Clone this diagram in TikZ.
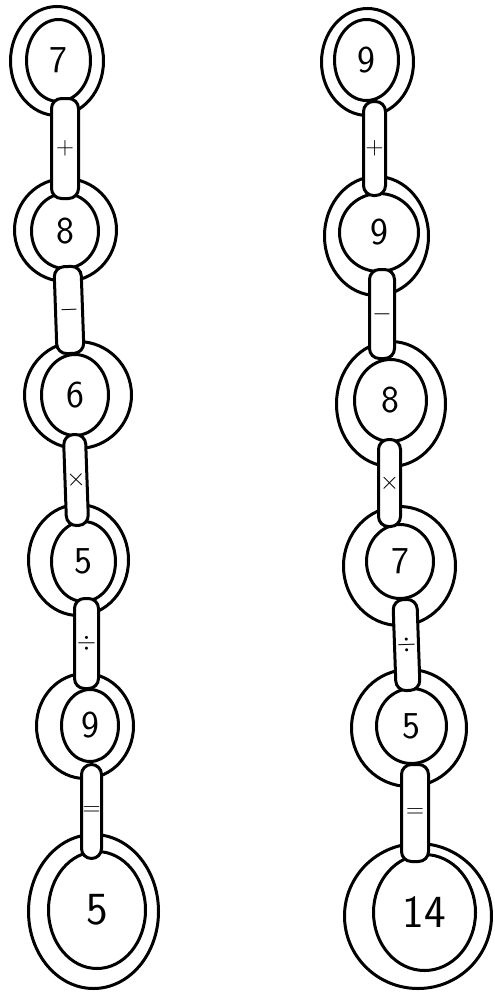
\documentclass[tikz,border=0pt]{standalone}
\usetikzlibrary{shapes.geometric}
\tikzset{
  outring/.style={ellipse, draw, line width=3pt, inner sep=0pt},
  inring/.style={ellipse, draw, line width=3pt, inner sep=0pt, font=\sffamily\fontsize{38}{38}\selectfont},
  endring/.style={inring, font=\sffamily\fontsize{46}{46}\selectfont},
  link/.style={rectangle, draw, fill=white, line width=3pt, rounded corners=10pt, inner sep=0pt, font=\fontsize{26}{26}\selectfont},
}
\begin{document}
\begin{tikzpicture}[x=1pt, y=-1pt]
  \useasboundingbox (0,0) rectangle (495,996);
  % left chain: rings
  \node[outring, minimum width=93, minimum height=109] (a1out) at (57,61) {};
  \node[inring, minimum width=64, minimum height=82] (a1) at (58.5,60.5) {7};
  \node[outring, minimum width=102, minimum height=103] (a2out) at (65.5,230) {};
  \node[inring, minimum width=67, minimum height=75] (a2) at (65,231) {8};
  \node[outring, minimum width=107, minimum height=107] (a3out) at (78,395) {};
  \node[inring, minimum width=67, minimum height=81] (a3) at (75,395) {6};
  \node[outring, minimum width=100, minimum height=111] (a4out) at (78.5,560) {};
  \node[inring, minimum width=64, minimum height=80] (a4) at (83.5,561.5) {5};
  \node[outring, minimum width=97, minimum height=105] (a5out) at (85,726) {};
  \node[inring, minimum width=57, minimum height=72] (a5) at (90,725.5) {9};
  \node[outring, minimum width=130, minimum height=154] (a6out) at (93.5,911.5) {};
  \node[endring, minimum width=97, minimum height=117] (a6) at (97,910) {5};
  % right chain: rings
  \node[outring, minimum width=92, minimum height=107] (b1out) at (367.5,62) {};
  \node[inring, minimum width=64, minimum height=81] (b1) at (366.5,60) {9};
  \node[outring, minimum width=104, minimum height=119] (b2out) at (376.5,236) {};
  \node[inring, minimum width=79, minimum height=78] (b2) at (379,232.5) {9};
  \node[outring, minimum width=109, minimum height=125] (b3out) at (391,404) {};
  \node[inring, minimum width=72, minimum height=82] (b3) at (390.5,400.5) {8};
  \node[outring, minimum width=112, minimum height=119] (b4out) at (399.5,566) {};
  \node[inring, minimum width=67, minimum height=74] (b4) at (400,561.5) {7};
  \node[outring, minimum width=115, minimum height=117] (b5out) at (409,728) {};
  \node[inring, minimum width=70, minimum height=75] (b5) at (411.5,726) {5};
  \node[outring, minimum width=147, minimum height=145] (b6out) at (418,916) {};
  \node[endring, minimum width=102, minimum height=116] (b6) at (424.5,912.5) {14};
  % links with the operators
  \node[link, minimum width=27, minimum height=100] (la1) at (65,148.5) {$+$};
  \node[link, minimum width=27, minimum height=87, rotate=2] (la2) at (69,310) {$-$};
  \node[link, minimum width=22, minimum height=91, rotate=2] (la3) at (76,480) {$\times$};
  \node[link, minimum width=24, minimum height=90] (la4) at (86.5,643.5) {$\div$};
  \node[link, minimum width=20, minimum height=94] (la5) at (91.5,811.5) {$=$};
  \node[link, minimum width=22, minimum height=94] (lb1) at (374.5,148.5) {$+$};
  \node[link, minimum width=25, minimum height=89] (lb2) at (382,314) {$-$};
  \node[link, minimum width=22, minimum height=87] (lb3) at (389.5,483) {$\times$};
  \node[link, minimum width=24, minimum height=91, rotate=2] (lb4) at (406.5,645) {$\div$};
  \node[link, minimum width=27, minimum height=97] (lb5) at (415,813) {$=$};
\end{tikzpicture}
\end{document}
